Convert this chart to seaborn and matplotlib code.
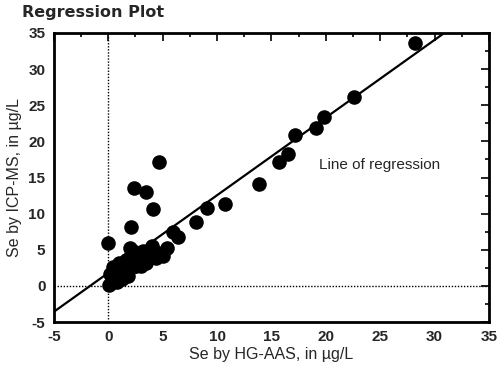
import numpy as np
import pandas as pd
import seaborn as sns
import matplotlib.pyplot as plt
from matplotlib.ticker import MultipleLocator

# Se measurements (µg/L): hydride generation AAS vs ICP-MS
hg_aas = [28.2, 22.6, 19.8, 19.1, 17.2, 16.5, 15.7, 13.9, 10.7, 9.1, 8.1,
          6.0, 6.4, 4.66, 2.4, 3.5, 4.1, 2.1, 0.0,
          0.1, 0.3, 0.5, 0.8, 0.6, 1.0, 1.2, 1.0, 1.5, 1.6, 1.8, 2.0, 2.0,
          2.2, 2.5, 2.8, 2.6, 3.0, 3.2, 3.5, 3.6, 4.0, 4.0, 4.4, 4.6, 5.0,
          5.4, 1.3, 0.4, 2.3, 3.0, 0.2]
icp_ms = [33.6, 26.1, 23.4, 21.8, 20.9, 18.2, 17.1, 14.1, 11.4, 10.8, 8.8,
          7.4, 6.8, 17.1, 13.6, 13.0, 10.6, 8.1, 5.9,
          0.1, 0.4, 1.2, 0.6, 2.0, 1.5, 2.8, 3.2, 2.2, 3.6, 1.4, 4.0, 5.3,
          2.6, 3.4, 4.6, 2.8, 3.8, 4.8, 3.2, 4.2, 5.5, 4.0, 3.9, 4.6, 4.2,
          5.3, 0.9, 2.6, 4.9, 2.8, 1.6]

# Fitted regression line
slope = 1.075
intercept = 1.8
line_x = [-5, 35]

df = pd.DataFrame({"HG-AAS": hg_aas, "ICP-MS": icp_ms})
line_df = pd.DataFrame({"x": line_x,
                        "y": [slope * v + intercept for v in line_x]})

sns.set_theme(style="white")
plt.rcParams["font.family"] = ["Liberation Sans", "DejaVu Sans"]
plt.rcParams["axes.unicode_minus"] = False

fig = plt.figure(figsize=(4.98, 3.75), dpi=100)
ax = fig.add_axes([0.108, 0.141, 0.874, 0.771])

ax.axhline(0, color="black", lw=1.0, ls=(0, (1, 1.2)), zorder=1)
ax.axvline(0, color="black", lw=1.0, ls=(0, (1, 1.2)), zorder=1)

sns.lineplot(data=line_df, x="x", y="y", color="black", lw=1.6, ax=ax,
             zorder=2)
sns.scatterplot(data=df, x="HG-AAS", y="ICP-MS", color="black", s=110,
                edgecolor="black", linewidth=0, ax=ax, zorder=3)

ax.set_xlim(-5, 35)
ax.set_ylim(-5, 35)
ax.xaxis.set_major_locator(MultipleLocator(5))
ax.yaxis.set_major_locator(MultipleLocator(5))
ax.xaxis.set_minor_locator(MultipleLocator(2.5))
ax.yaxis.set_minor_locator(MultipleLocator(2.5))
ax.tick_params(which="both", direction="in", top=True, right=True,
               color="black", width=1.2)
ax.tick_params(which="major", length=6, labelsize=11, pad=6)
ax.tick_params(which="minor", length=3)
for lbl in ax.get_xticklabels() + ax.get_yticklabels():
    lbl.set_fontweight("bold")

for sp in ax.spines.values():
    sp.set_color("black")
    sp.set_linewidth(2.0)

ax.set_xlabel("Se by HG-AAS, in µg/L", fontsize=11.5, labelpad=2)
ax.set_ylabel("Se by ICP-MS, in µg/L", fontsize=11.5, labelpad=5)

ax.text(19.4, 16.7, "Line of regression", fontsize=11, va="center")
fig.text(0.044, 0.968, "Regression Plot", fontsize=11.5, fontweight="bold",
         family="DejaVu Sans", va="center")

fig.savefig("out.png", dpi=100)
